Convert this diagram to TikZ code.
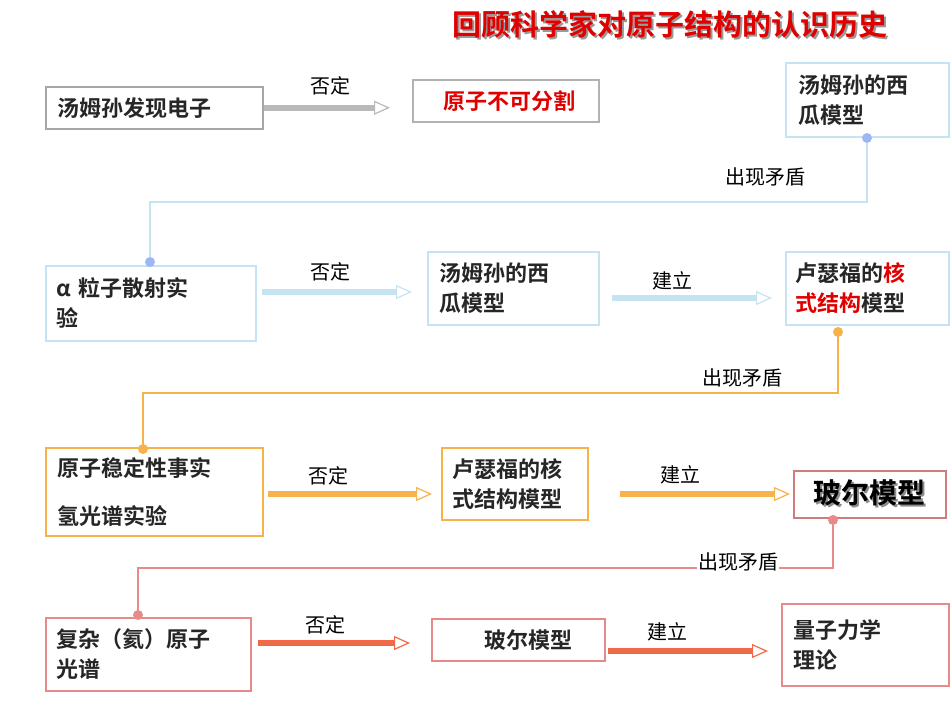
\documentclass[tikz,border=0pt]{standalone}
\usepackage{fontspec}
\setmainfont{Noto Sans CJK SC}
\newfontfamily\cjkb{Noto Sans CJK SC Bold}
\usetikzlibrary{arrows.meta}
\definecolor{lb}{HTML}{C4E4F4}
\definecolor{org}{HTML}{F7B24A}
\definecolor{pk}{HTML}{E88A8A}
\definecolor{rd}{HTML}{F06A4A}
\definecolor{tred}{HTML}{E00000}
\newcommand{\shadowtxt}[2]{\makebox[0pt][l]{\kern2pt\raisebox{-2pt}{\textcolor{#1}{#2}}}#2}
\tikzset{
 box/.style={draw, line width=1.5pt, anchor=north west, inner sep=0pt, align=left, font=\cjkb\fontsize{22}{30}\selectfont, text=black!85},
 lbl/.style={font=\fontsize{20}{22}\selectfont},
 barrow/.style={line width=6pt, -{Triangle[open,length=16pt,width=14pt,line width=1.2pt]}},
 link/.style={line width=1.3pt},
 dot/.style={circle, fill, inner sep=0pt, minimum size=10pt}
}
\begin{document}
\begin{tikzpicture}[x=1pt,y=-1pt]
\useasboundingbox (0,0) rectangle (950,713);
% title
\node[font=\cjkb\fontsize{29}{30}\selectfont, text=tred] (title) at (670,25) {\shadowtxt{black!40}{回顾科学家对原子结构的认识历史}};
% row 1
\node[box, draw=gray!70, minimum width=217pt, minimum height=42pt, text width=205pt] (a1) at (45,86) {\hspace*{6pt}汤姆孙发现电子};
\node[box, draw=gray!60, minimum width=186pt, minimum height=42pt, text=tred] (b1) at (412,79) {\hspace*{8pt}原子不可分割};
\node[box, draw=lb, minimum width=163pt, minimum height=74pt, text width=150pt] (c1) at (785,62) {\hspace*{6pt}汤姆孙的西\\\hspace*{6pt}瓜模型};
\draw[barrow, gray!55] (a1.east) -- ([xshift=-22pt]b1.west|-a1.east);
\node[lbl] (l1) at (330,86) {否定};
% row 2
\node[box, draw=lb, minimum width=210pt, minimum height=75pt, text width=200pt] (a2) at (45,265) {\hspace*{6pt}α 粒子散射实\\\hspace*{6pt}验};
\node[box, draw=lb, minimum width=171pt, minimum height=73pt, text width=160pt] (b2) at (427,251) {\hspace*{6pt}汤姆孙的西\\\hspace*{6pt}瓜模型};
\node[box, draw=lb, minimum width=163pt, minimum height=73pt, text width=155pt] (c2) at (785,251) {\hspace*{6pt}卢瑟福的\textcolor{tred}{核}\\\hspace*{6pt}\textcolor{tred}{式结构}模型};
\coordinate (a2e) at (262,292);
\coordinate (b2w) at (412,292);
\draw[barrow, lb] (a2e) -- (b2w);
\node[lbl] at (330,272) {否定};
\coordinate (b2e) at (612,298);
\coordinate (c2w) at (772,298);
\draw[barrow, lb] (b2e) -- (c2w);
\node[lbl] at (672,281) {建立};
% row 3
\node[box, draw=org, minimum width=217pt, minimum height=88pt, text width=205pt, font=\cjkb\fontsize{22}{48}\selectfont] (a3) at (45,447) {\hspace*{6pt}原子稳定性事实\\\hspace*{6pt}氢光谱实验};
\node[box, draw=org, minimum width=146pt, minimum height=72pt, text width=140pt] (b3) at (441,447) {\hspace*{8pt}卢瑟福的核\\\hspace*{8pt}式结构模型};
\node[box, draw=pk!90!black, minimum width=152pt, minimum height=47pt, font=\cjkb\fontsize{28}{30}\selectfont, anchor=north west, align=center, text=black] (c3) at (793,470) {\shadowtxt{black!45}{玻尔模型}};
\coordinate (a3e) at (268,494);
\coordinate (b3w) at (432,494);
\draw[barrow, org] (a3e) -- (b3w);
\node[lbl] at (328,476) {否定};
\coordinate (b3e) at (620,494);
\coordinate (c3w) at (790,494);
\draw[barrow, org] (b3e) -- (c3w);
\node[lbl] at (680,475) {建立};
% row 4
\node[box, draw=pk, minimum width=205pt, minimum height=73pt, text width=195pt] (a4) at (45,617) {\hspace*{6pt}复杂（氦）原子\\\hspace*{6pt}光谱};
\node[box, draw=pk, minimum width=173pt, minimum height=42pt] (b4) at (431,618) {\hspace*{40pt}玻尔模型\hspace*{20pt}};
\node[box, draw=pk, minimum width=167pt, minimum height=82pt, text width=155pt] (c4) at (781,603) {\hspace*{6pt}量子力学\\\hspace*{6pt}理论};
\coordinate (a4e) at (258,643);
\coordinate (b4w) at (410,643);
\draw[barrow, rd] (a4e) -- (b4w);
\node[lbl] at (325,625) {否定};
\coordinate (b4e) at (608,651);
\coordinate (c4w) at (768,651);
\draw[barrow, rd] (b4e) -- (c4w);
\node[lbl] at (667,632) {建立};
% contradiction links
\node[dot, lb!80!blue] (d1) at (867,138) {};
\node[dot, lb!80!blue] (e1) at (150,262) {};
\draw[link, lb] (d1) |- (150,202) -- (e1);
\node[lbl] at (765,177) {出现矛盾};
\node[dot, org] (d2) at (838,332) {};
\node[dot, org] (e2) at (143,449) {};
\draw[link, org] (d2) |- (143,393) -- (e2);
\node[lbl] at (742,378) {出现矛盾};
\node[dot, pk] (d3) at (833,520) {};
\node[dot, pk] (e3) at (138,615) {};
\draw[link, pk] (d3) |- (138,568) -- (e3);
\node[lbl, fill=white, inner sep=1pt] at (738,562) {出现矛盾};
\end{tikzpicture}
\end{document}
